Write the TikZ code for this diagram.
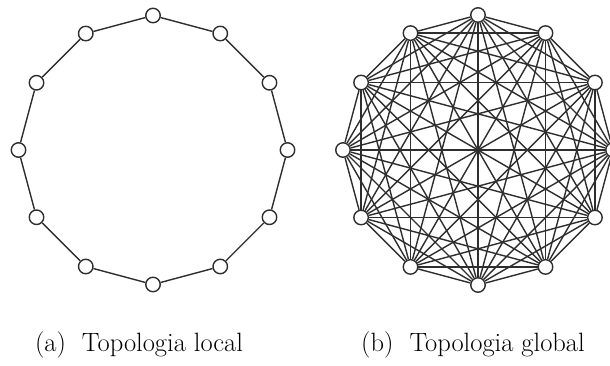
\documentclass[tikz,border=0pt]{standalone}
\begin{document}
\begin{tikzpicture}[x=1pt,y=-1pt,
  nd/.style={circle,draw=black!82,fill=white,line width=1.4pt,minimum size=14.5pt,inner sep=0pt},
  ln/.style={draw=black!82,line width=1.4pt},
  captxt/.style={font=\fontsize{26.5}{30}\selectfont,inner sep=0pt}]
\clip (0,0) rectangle (610,365);
\fill[white] (0,0) rectangle (610,365);
\foreach \i in {0,...,11} {
  \node[nd] (a\i) at ({153+134.5*cos(90-30*\i)},{150-134.5*sin(90-30*\i)}) {};
  \node[nd] (b\i) at ({478+135*cos(90-30*\i)},{150-135*sin(90-30*\i)}) {};
}
\foreach \i in {0,...,11} {
  \pgfmathtruncatemacro\j{mod(\i+1,12)}
  \draw[ln] (a\i) -- (a\j);
}
\foreach \i in {0,...,10} {
  \pgfmathtruncatemacro\k{\i+1}
  \foreach \j in {\k,...,11} {
    \draw[ln] (b\i) -- (b\j);
  }
}
\node[captxt] (la) at (139,345) {(a)\ \ Topologia local};
\node[captxt] (lb) at (473,345) {(b)\ \ Topologia global};
\end{tikzpicture}
\end{document}
